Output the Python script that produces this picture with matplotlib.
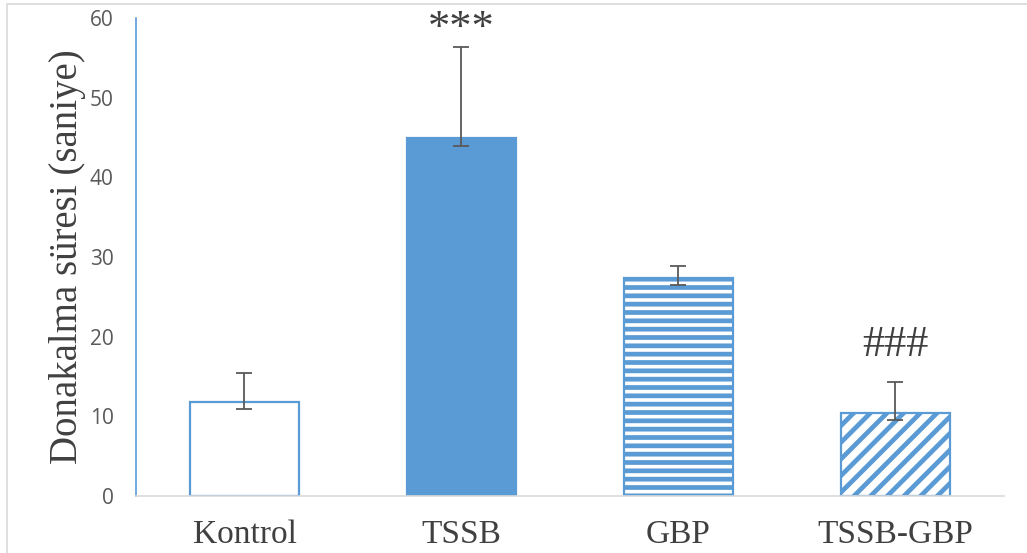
"""Donakalma suresi bar chart with asymmetric error bars"""

import matplotlib
matplotlib.use("Agg")
import matplotlib.pyplot as plt
from matplotlib.patches import Rectangle
import numpy as np

# data
groups = ["Kontrol", "TSSB", "GBP", "TSSB-GBP"]
means = [11.8, 44.9, 27.4, 10.4]
err_low = [0.9, 1.0, 0.9, 0.9]
err_high = [3.6, 11.5, 1.5, 3.9]
marks = ["", "***", "", "###"]
mark_y = [0, 58.6, 0, 18.9]

blue = "#5B9BD5"
fills = ["white", blue, "white", "white"]
hatches = [None, None, "--", "//"]

plt.rcParams["hatch.linewidth"] = 3.4

fig = plt.figure(figsize=(10.27, 5.53), dpi=100)
ax = fig.add_axes([0.1324, 0.1031, 0.8452, 0.8644])

x = np.arange(len(groups))
bars = ax.bar(x, means, width=0.5, color=fills, edgecolor=blue, linewidth=1.6, zorder=2)
for b, h in zip(bars, hatches):
    if h:
        b.set_hatch(h)

ax.errorbar(x, means, yerr=[err_low, err_high], fmt="none", ecolor="#595959",
            elinewidth=1.3, capsize=6, capthick=1.3, zorder=3)

for xi, my, t in zip(x, mark_y, marks):
    if t:
        ax.text(xi, my, t, ha="center", va="center", fontsize=32,
                family="Liberation Serif", color="#404040")

ax.set_xlim(-0.5, len(groups) - 0.5)
ax.set_ylim(0, 60)
ax.set_yticks(range(0, 61, 10))
ax.set_xticks(x)
ax.set_xticklabels(groups, family="Liberation Serif", fontsize=24, color="#404040")
for lbl in ax.get_yticklabels():
    lbl.set_family("Open Sans")
    lbl.set_fontsize(15)
    lbl.set_color("#595959")
ax.tick_params(axis="both", length=0)
ax.tick_params(axis="y", pad=16)
ax.tick_params(axis="x", pad=17)

ax.set_ylabel("Donakalma süresi (saniye)", family="Liberation Serif", fontsize=28,
              color="#404040", labelpad=3)

ax.spines["top"].set_visible(False)
ax.spines["right"].set_visible(False)
ax.spines["left"].set_color(blue)
ax.spines["left"].set_linewidth(1.2)
ax.spines["bottom"].set_color("#D9D9D9")
ax.spines["bottom"].set_linewidth(1.2)

# chart area border
fig.patches.append(Rectangle((7 / 1027, -0.05), 1.1, 1.05 - 4 / 553, transform=fig.transFigure,
                             fill=False, edgecolor="#D9D9D9", linewidth=1.2))

fig.savefig("out.png", dpi=100)
